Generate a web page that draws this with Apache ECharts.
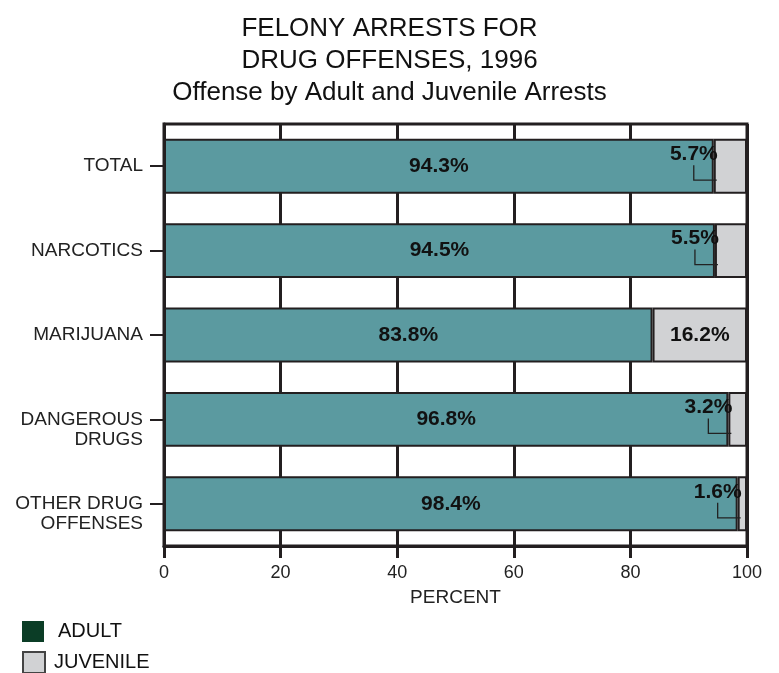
<!DOCTYPE html>
<html><head><meta charset="utf-8">
<script src="https://cdn.jsdelivr.net/npm/echarts@6/dist/echarts.min.js"></script>
<style>html,body{margin:0;padding:0;background:#fff}#c{width:779px;height:673px}</style>
</head><body><div id="c"></div>
<script>
const titleLines = ['FELONY ARRESTS FOR', 'DRUG OFFENSES, 1996', 'Offense by Adult and Juvenile Arrests'];
const categories = ['TOTAL', 'NARCOTICS', 'MARIJUANA', 'DANGEROUS\nDRUGS', 'OTHER DRUG\nOFFENSES'];
const adultPct = [94.3, 94.5, 83.8, 96.8, 98.4];
const juvenilePct = [5.7, 5.5, 16.2, 3.2, 1.6];
const juvenileOutside = [true, true, false, true, true];
const seriesNames = ['ADULT', 'JUVENILE'];
const axisName = 'PERCENT';
const xMin = 0, xMax = 100, xStep = 20;

const INK = '#231f20', TEAL = '#5b9aa0', GRAY = '#d1d2d4', LEGEND_ADULT = '#0b3d26';
const FONT = '"Liberation Sans", Arial, Helvetica, sans-serif';

const chart = echarts.init(document.getElementById('c'), null, {renderer: 'canvas'});

const legendBase = {
  orient: 'vertical', left: 22, padding: 0, itemWidth: 22, itemHeight: 21,
  selectedMode: false, icon: 'rect',
  textStyle: {fontFamily: FONT, fontSize: 20, color: '#111'}
};

chart.setOption({
  animation: false,
  backgroundColor: '#fff',
  title: {
    text: titleLines.join('\n'), left: 'center', top: 8,
    textStyle: {fontFamily: FONT, fontSize: 26, fontWeight: 'normal', color: '#111', lineHeight: 32}
  },
  legend: [
    Object.assign({}, legendBase, {top: 621,
      data: [{name: seriesNames[0], itemStyle: {color: LEGEND_ADULT, borderWidth: 0}, textStyle: {padding: [0, 0, 0, 9]}}]}),
    Object.assign({}, legendBase, {top: 651,
      data: [{name: seriesNames[1], itemStyle: {color: GRAY, borderColor: '#444', borderWidth: 2}, textStyle: {padding: [0, 0, 0, 4]}}]})
  ],
  grid: {left: 164, right: 32, top: 124, height: 422, show: true, borderColor: INK, borderWidth: 3, backgroundColor: 'transparent'},
  xAxis: {
    type: 'value', min: xMin, max: xMax, interval: xStep,
    name: axisName, nameLocation: 'middle', nameGap: 42,
    nameTextStyle: {fontFamily: FONT, fontSize: 19, color: '#222'},
    axisLine: {show: true, onZero: false, lineStyle: {color: INK, width: 3}},
    axisTick: {show: true, length: 12, lineStyle: {color: INK, width: 3}},
    axisLabel: {fontFamily: FONT, fontSize: 18, color: '#222', margin: 18},
    splitLine: {show: true, lineStyle: {color: INK, width: 3}}
  },
  yAxis: {
    type: 'category', inverse: true,
    data: categories,
    axisLine: {show: true, lineStyle: {color: INK, width: 3}},
    axisTick: {show: true, alignWithLabel: true, length: 14, lineStyle: {color: INK, width: 2}},
    axisLabel: {fontFamily: FONT, fontSize: 19, color: '#222', margin: 21, lineHeight: 20,
      formatter: v => v.includes('\n') ? ' \n' + v : v},
    splitLine: {show: false}
  },
  series: [
    {
      name: seriesNames[0], type: 'bar', stack: 'all', barWidth: '65%',
      data: adultPct,
      itemStyle: {color: TEAL, borderColor: INK, borderWidth: 2},
      label: {show: true, position: 'inside', formatter: p => p.value.toFixed(1) + '%',
        fontFamily: FONT, fontSize: 21, fontWeight: 'bold', color: '#111'}
    },
    {
      name: seriesNames[1], type: 'bar', stack: 'all', barWidth: '65%',
      data: juvenilePct,
      itemStyle: {color: GRAY, borderColor: INK, borderWidth: 2},
      label: {show: true, position: 'inside',
        formatter: p => juvenileOutside[p.dataIndex] ? '' : p.value.toFixed(1) + '%',
        fontFamily: FONT, fontSize: 21, fontWeight: 'bold', color: '#111'}
    },
    {
      name: 'callout', type: 'custom', z: 10,
      encode: {x: 0, y: 1},
      data: adultPct.map((a, i) => [a, i, juvenilePct[i], juvenileOutside[i] ? 1 : 0]),
      renderItem: (params, api) => {
        if (!api.value(3)) return null;
        const p = api.coord([api.value(0), api.value(1)]);
        const bx = p[0], cy = p[1];
        const hy = cy + 14, vx = bx - 20;
        return {
          type: 'group',
          children: [
            {type: 'polyline', shape: {points: [[bx + 3, hy], [vx, hy], [vx, cy - 1]]},
              style: {stroke: '#222', lineWidth: 1.3, fill: null}},
            {type: 'text', x: bx + 4, y: cy - 12,
              style: {text: api.value(2).toFixed(1) + '%', align: 'right', verticalAlign: 'middle',
                font: 'bold 21px ' + FONT, fill: '#111'}}
          ]
        };
      }
    }
  ]
});
</script>
</body></html>
